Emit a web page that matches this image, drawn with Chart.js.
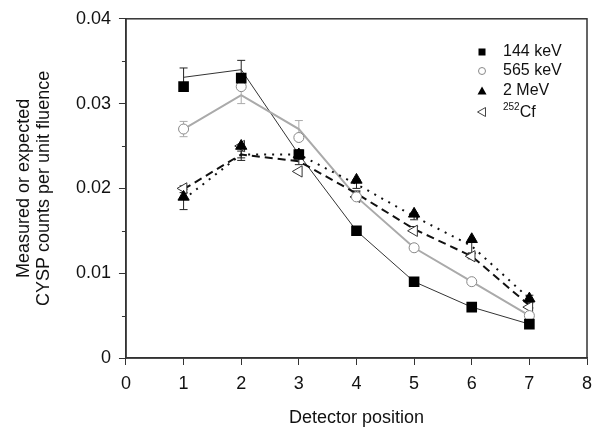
<!DOCTYPE html>
<html>
<head>
<meta charset="utf-8">
<script src="https://cdn.jsdelivr.net/npm/chart.js@4.4.1/dist/chart.umd.min.js"></script>
<style>
html,body{margin:0;padding:0;background:#fff;}
#wrap{width:607px;height:429px;position:relative;}
</style>
</head>
<body>
<div id="wrap"><canvas id="c" width="607" height="429"></canvas></div>
<script>
// ---- data ----
const positions = [1, 2, 3, 4, 5, 6, 7];
const measured144 = [0.032, 0.033, 0.024, 0.015, 0.009, 0.006, 0.004];
const measured565 = [0.027, 0.032, 0.026, 0.019, 0.013, 0.009, 0.005];
const measured2MeV = [0.019, 0.025, 0.024, 0.021, 0.017, 0.014, 0.007];
const measuredCf = [0.020, 0.025, 0.022, 0.019, 0.015, 0.012, 0.006];

const expected144 = [0.0331, 0.034, 0.024, 0.015, 0.009, 0.006, 0.004];
const expected565 = [0.027, 0.031, 0.027, 0.019, 0.013, 0.009, 0.005];
const expected2MeV = [0.0187, 0.024, 0.024, 0.0205, 0.0167, 0.0132, 0.007];
const expectedCf = [0.0199, 0.024, 0.0232, 0.0194, 0.0152, 0.012, 0.0062];

const err144 = [0.0011, 0.0011, 0.0005, 0.0003, 0.0003, 0.0003, 0.0003];
const err565 = [0.0009, 0.001, 0.001, 0.0003, 0.0003, 0.0003, 0.0003];
const err2MeV = [0.0012, 0.0007, 0.0005, 0.0005, 0.0004, 0.0008, 0.0004];
const errCf = [0.0004, 0.0004, 0.0004, 0.0003, 0.0003, 0.0003, 0.0003];

const legendLabels = ['144 keV', '565 keV', '2 MeV', 'Cf'];
const cfSuperscript = '252';
const xTicks = [0, 1, 2, 3, 4, 5, 6, 7, 8];
const yMajorTicks = [0, 0.01, 0.02, 0.03, 0.04];

const pts = (ys) => positions.map((x, i) => ({x: x, y: ys[i]}));
const FONT = "'Liberation Sans', Arial, sans-serif";

const errorBars = [
  {ys: expected144, err: err144, color: '#222'},
  {ys: expected565, err: err565, color: '#aaa'},
  {ys: expected2MeV, err: err2MeV, color: '#222'},
  {ys: expectedCf, err: errCf, color: '#222'}
];

const extras = {
  id: 'extras',
  beforeDatasetsDraw(chart) {
    const {ctx, chartArea: a, scales: {x, y}} = chart;
    ctx.save();
    errorBars.forEach(s => {
      ctx.strokeStyle = s.color; ctx.lineWidth = 1;
      positions.forEach((p, i) => {
        const px = x.getPixelForValue(p);
        const t = y.getPixelForValue(s.ys[i] + s.err[i]);
        const b = y.getPixelForValue(s.ys[i] - s.err[i]);
        ctx.beginPath();
        ctx.moveTo(px, t); ctx.lineTo(px, b);
        ctx.moveTo(px - 4, t); ctx.lineTo(px + 4, t);
        ctx.moveTo(px - 4, b); ctx.lineTo(px + 4, b);
        ctx.stroke();
      });
    });
    ctx.restore();
  },
  afterDraw(chart) {
    const {ctx, chartArea: a, scales: {x, y}} = chart;
    ctx.save();
    ctx.strokeStyle = '#333'; ctx.lineWidth = 1.5;
    ctx.strokeRect(a.left, a.top, a.right - a.left, a.bottom - a.top);
    ctx.lineWidth = 1;
    for (let i = 0; i < yMajorTicks.length - 1; i++) {
      const v = (yMajorTicks[i] + yMajorTicks[i + 1]) / 2;
      const py = Math.round(y.getPixelForValue(v)) + 0.5;
      ctx.beginPath(); ctx.moveTo(a.left - 4, py); ctx.lineTo(a.left, py); ctx.stroke();
    }
    // legend
    const lx = 482, tx = 503, rows = [52, 71, 91, 112];
    ctx.textBaseline = 'middle';
    ctx.fillStyle = '#000'; ctx.fillRect(lx - 3.5, rows[0] - 3.5, 7, 7);
    ctx.beginPath(); ctx.arc(lx, rows[1], 3.5, 0, Math.PI * 2);
    ctx.fillStyle = '#fff'; ctx.fill(); ctx.strokeStyle = '#888'; ctx.stroke();
    ctx.beginPath(); ctx.moveTo(lx, rows[2] - 4.5); ctx.lineTo(lx + 4.5, rows[2] + 3.5); ctx.lineTo(lx - 4.5, rows[2] + 3.5); ctx.closePath();
    ctx.fillStyle = '#000'; ctx.fill();
    ctx.beginPath(); ctx.moveTo(lx - 4.5, rows[3]); ctx.lineTo(lx + 3.5, rows[3] - 4.5); ctx.lineTo(lx + 3.5, rows[3] + 4.5); ctx.closePath();
    ctx.strokeStyle = '#444'; ctx.stroke();
    ctx.fillStyle = '#111';
    ctx.font = '16px ' + FONT;
    ctx.fillText(legendLabels[0], tx, rows[0]);
    ctx.fillText(legendLabels[1], tx, rows[1]);
    ctx.fillText(legendLabels[2], tx, rows[2]);
    ctx.font = '10px ' + FONT;
    ctx.fillText(cfSuperscript, tx, rows[3] - 5);
    const sw = ctx.measureText(cfSuperscript).width;
    ctx.font = '16px ' + FONT;
    ctx.fillText(legendLabels[3], tx + sw, rows[3] + 1);
    ctx.restore();
  }
};

new Chart(document.getElementById('c'), {
  type: 'scatter',
  data: {
    datasets: [
      {label: '144 keV', data: pts(measured144), pointStyle: 'rect', pointRadius: 7.5, backgroundColor: '#000', borderColor: '#000', borderWidth: 0, showLine: false, order: 1},
      {label: '565 keV', data: pts(measured565), pointStyle: 'circle', pointRadius: 5, backgroundColor: '#fff', borderColor: '#888', borderWidth: 1, showLine: false, order: 2},
      {label: '2 MeV', data: pts(measured2MeV), pointStyle: 'triangle', pointRadius: 6.5, backgroundColor: '#000', borderColor: '#000', borderWidth: 1, showLine: false, order: 3},
      {label: 'Cf', data: pts(measuredCf), pointStyle: 'triangle', pointRotation: -90, pointRadius: 6.5, backgroundColor: '#fff', borderColor: '#333', borderWidth: 1, showLine: false, order: 4},
      {label: 'exp 144', data: pts(expected144), showLine: true, pointRadius: 0, borderColor: '#333', borderWidth: 1, order: 8},
      {label: 'exp 565', data: pts(expected565), showLine: true, pointRadius: 0, borderColor: '#aaa', borderWidth: 2, order: 7},
      {label: 'exp 2 MeV', data: pts(expected2MeV), showLine: true, pointRadius: 0, borderColor: '#111', borderWidth: 2, borderDash: [2, 6], order: 6},
      {label: 'exp Cf', data: pts(expectedCf), showLine: true, pointRadius: 0, borderColor: '#111', borderWidth: 2, borderDash: [8, 5], order: 5}
    ]
  },
  options: {
    responsive: false,
    animation: false,
    layout: {padding: {top: 11.2, right: 20, left: 13.6, bottom: 0}},
    plugins: {legend: {display: false}, tooltip: {enabled: false}},
    scales: {
      x: {
        type: 'linear', min: 0, max: 8,
        afterBuildTicks: (s) => { s.ticks = xTicks.map(v => ({value: v})); },
        ticks: {font: {size: 18, family: FONT}, color: '#111', padding: 8},
        grid: {display: true, drawOnChartArea: false, drawTicks: true, tickLength: 7, color: '#333', tickColor: '#333'},
        border: {display: true, color: '#333', width: 1.5},
        title: {display: true, text: 'Detector position', font: {size: 18, family: FONT}, color: '#111', padding: {top: 4.8, bottom: 0}}
      },
      y: {
        type: 'linear', min: 0, max: 0.04,
        afterBuildTicks: (s) => { s.ticks = yMajorTicks.map(v => ({value: v})); },
        ticks: {font: {size: 18, family: FONT}, color: '#111', padding: 8, callback: (v) => String(+v.toFixed(2))},
        grid: {display: true, drawOnChartArea: false, drawTicks: true, tickLength: 7, color: '#333', tickColor: '#333'},
        border: {display: true, color: '#333', width: 1.5},
        title: {display: true, text: ['Measured or expected', 'CYSP counts per unit fluence'], font: {size: 18, family: FONT, lineHeight: 1.12}, color: '#111', padding: {top: 0, bottom: 14}}
      }
    }
  },
  plugins: [extras]
});
</script>
</body>
</html>
